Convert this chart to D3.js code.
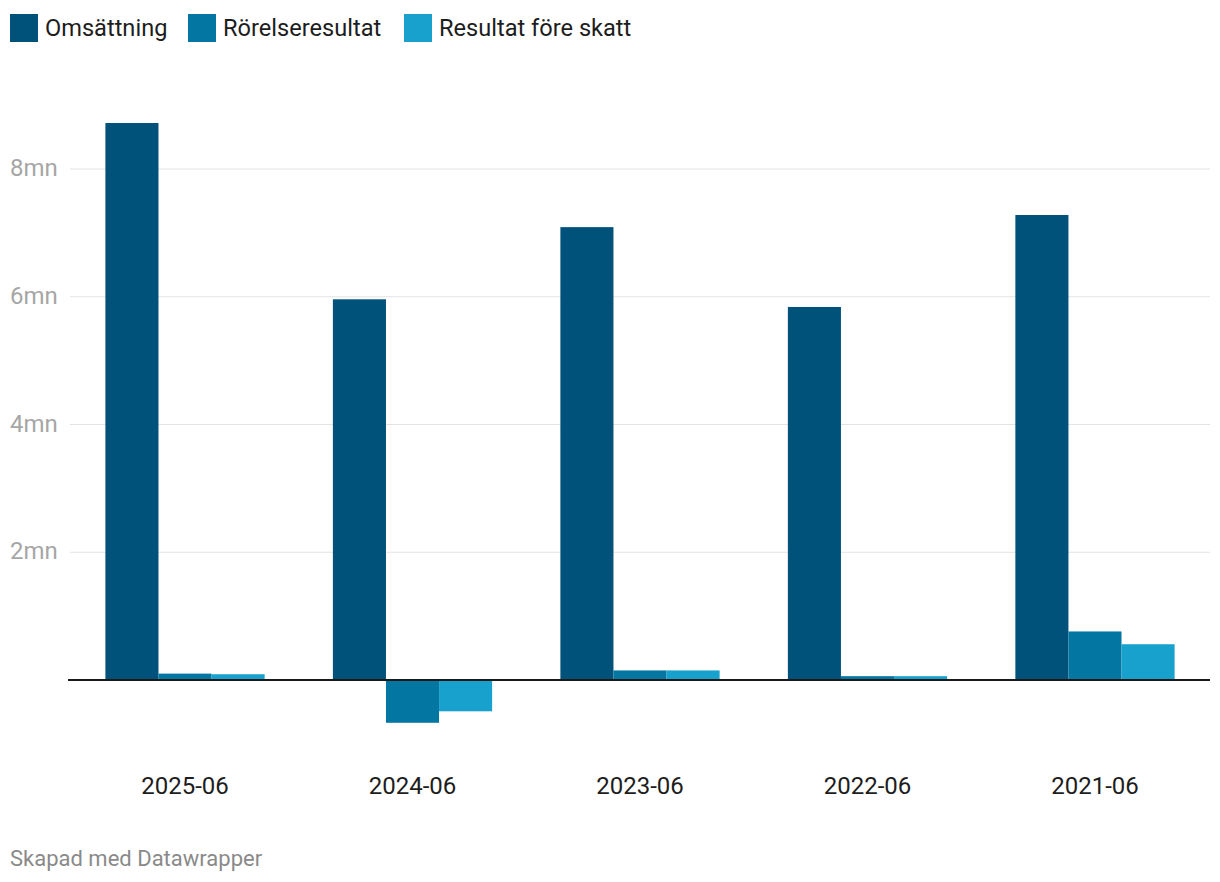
<!DOCTYPE html>
<html><head><meta charset="utf-8">
<script src="https://cdn.jsdelivr.net/npm/d3@7"></script>
<style>body{margin:0;background:#fff;}svg{display:block;font-family:Roboto,sans-serif;}</style>
</head><body><svg id="c" width="1220" height="882"></svg>
<script>
const categories = ["2025-06","2024-06","2023-06","2022-06","2021-06"];
const seriesNames = ["Omsättning","Rörelseresultat","Resultat före skatt"];
const omsattning = [8.72, 5.96, 7.09, 5.84, 7.28];
const rorelseresultat = [0.10, -0.67, 0.15, 0.06, 0.76];
const resultatForeSkatt = [0.09, -0.49, 0.15, 0.06, 0.56];
const yTicks = [2, 4, 6, 8];
const yTickLabels = ["2mn","4mn","6mn","8mn"];
const colors = ["#01527a","#0377a2","#19a1ce"];

const seriesValues = [omsattning, rorelseresultat, resultatForeSkatt];
const svg = d3.select("#c");

const y = d3.scaleLinear().domain([0, 8]).range([680, 169]);
const x0 = d3.scaleBand().domain(categories).range([69, 1211]).paddingInner(0.3).paddingOuter(0.16);
const x1 = d3.scaleBand().domain(seriesNames).range([0, x0.bandwidth()]);

// gridlines
svg.append("g").selectAll("line").data(yTicks).join("line")
  .attr("x1", 70).attr("x2", 1210)
  .attr("y1", d => y(d)).attr("y2", d => y(d))
  .attr("stroke", "#e3e3e3").attr("stroke-width", 1);
svg.append("g").selectAll("text").data(yTicks).join("text")
  .attr("x", 10).attr("y", d => y(d) + 7)
  .attr("fill", "#a6a6a6").attr("font-size", 24)
  .text((d, i) => yTickLabels[i]);

// bars
const g = svg.append("g");
categories.forEach((c, ci) => {
  seriesNames.forEach((s, si) => {
    const v = seriesValues[si][ci];
    g.append("rect")
      .attr("x", x0(c) + x1(s))
      .attr("width", x1.bandwidth())
      .attr("y", y(Math.max(0, v)))
      .attr("height", Math.abs(y(v) - y(0)))
      .attr("fill", colors[si]);
  });
});

// baseline
svg.append("line").attr("x1", 68).attr("x2", 1210).attr("y1", y(0)).attr("y2", y(0))
  .attr("stroke", "#1a1a1a").attr("stroke-width", 2);

// x labels
svg.append("g").selectAll("text").data(categories).join("text")
  .attr("x", d => x0(d) + x0.bandwidth() / 2).attr("y", 794)
  .attr("text-anchor", "middle").attr("fill", "#1d1d1d").attr("font-size", 24)
  .text(d => d);

// legend
const legendX = [10, 188, 404];
const lg = svg.append("g");
seriesNames.forEach((s, i) => {
  lg.append("rect").attr("x", legendX[i]).attr("y", 14).attr("width", 28).attr("height", 28).attr("fill", colors[i]);
  lg.append("text").attr("x", legendX[i] + 35).attr("y", 36)
    .attr("fill", "#1d1d1d").attr("font-size", 23.6).text(s);
});

// footer
svg.append("text").attr("x", 10).attr("y", 866).attr("fill", "#8a8a8a").attr("font-size", 22)
  .text("Skapad med Datawrapper");
</script></body></html>
